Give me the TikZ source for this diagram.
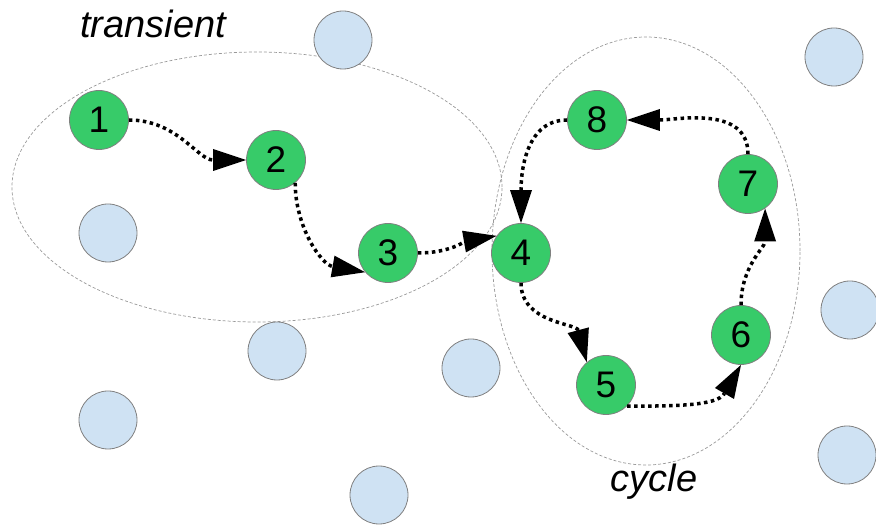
\documentclass[tikz,border=0pt]{standalone}
\usepackage{fontspec}
\setmainfont{Liberation Sans}
\usetikzlibrary{arrows.meta}

\definecolor{stategreen}{HTML}{37CB69}
\definecolor{idleblue}{HTML}{CFE2F3}

\tikzset{
  state/.style={circle,draw=gray,line width=0.8pt,fill=stategreen,minimum size=59pt,inner sep=0pt,
    font=\fontsize{37}{37}\selectfont},
  idle/.style={circle,draw=gray,line width=0.8pt,fill=idleblue,minimum size=58pt,inner sep=0pt},
  region/.style={draw=gray!80,line width=0.7pt,dash pattern=on 3pt off 2pt},
  hop/.style={line width=3.5pt,dash pattern=on 3.5pt off 3.5pt,
    -{Triangle[length=33pt,width=22pt,line width=0pt]}},
  tag/.style={anchor=base,font=\fontsize{38}{38}\selectfont\itshape}
}

\begin{document}
\begin{tikzpicture}[x=1pt,y=1pt]
  \useasboundingbox (0,0) rectangle (876,525);

  \draw [region] (257,338) ellipse [x radius=245,y radius=135];
  \draw [region] (646,274) ellipse [x radius=154,y radius=214];
  \node [tag] (transient) at (153,487) {transient};
  \node [tag] (cycle) at (654,33) {cycle};

  \node [idle] (b1) at (343,485) {};
  \node [idle] (b2) at (834,468) {};
  \node [idle] (b3) at (108,292) {};
  \node [idle] (b4) at (277,174) {};
  \node [idle] (b5) at (471,157) {};
  \node [idle] (b6) at (108,105) {};
  \node [idle] (b7) at (379,30) {};
  \node [idle] (b8) at (850,215) {};
  \node [idle] (b9) at (847,70) {};

  \node [state] (n1) at (99,405) {1};
  \node [state] (n2) at (276,365) {2};
  \node [state] (n3) at (388,272) {3};
  \node [state] (n4) at (521,272) {4};
  \node [state] (n5) at (606,140) {5};
  \node [state] (n6) at (741,190) {6};
  \node [state] (n7) at (748,341) {7};
  \node [state] (n8) at (597,405) {8};

  \draw [hop] (n1.east) to [out=0,in=180] (n2.west);
  \draw [hop] (n2.-50) to [out=-90,in=170] (n3.-140);
  \draw [hop] (n3.east) to [out=0,in=190] (n4.145);
  \draw [hop] (n4.south) to [out=-90,in=105] (n5.130);
  \draw [hop] (n5.-45) to [out=0,in=-120] (n6.south);
  \draw [hop] (n6.north) to [out=90,in=-90] (n7.-55);
  \draw [hop] (n7.north) to [out=90,in=0] (n8.east);
  \draw [hop] (n8.west) to [out=180,in=90] (n4.north);
\end{tikzpicture}
\end{document}
